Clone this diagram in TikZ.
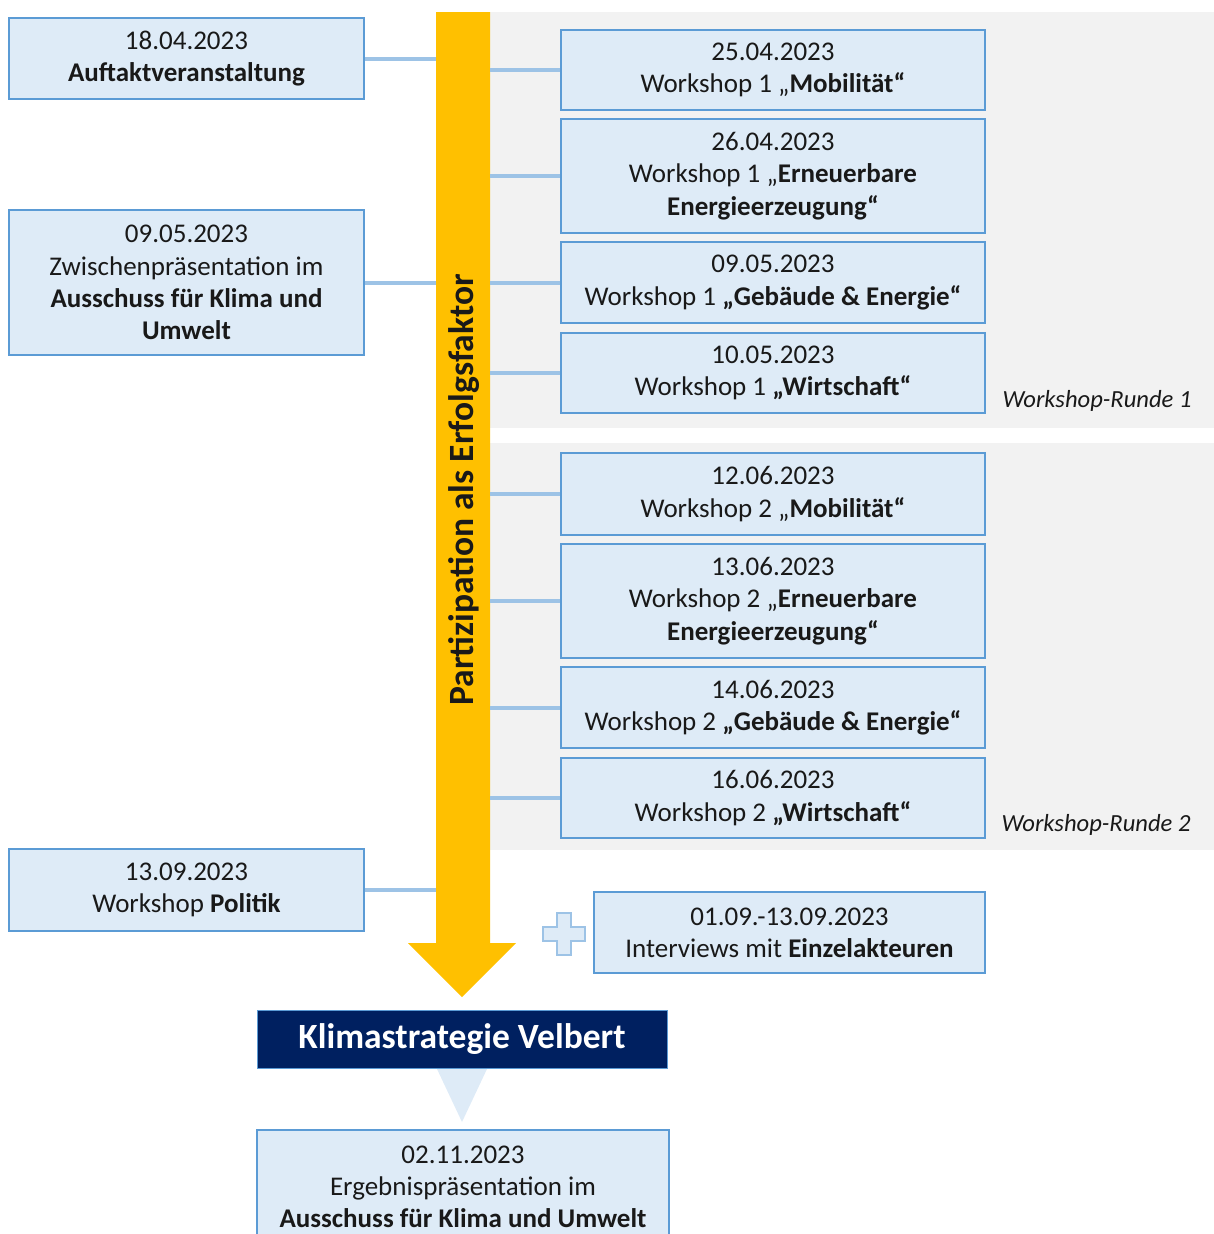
\documentclass[tikz,border=0pt]{standalone}
\usepackage{fontspec}
\setmainfont{Carlito}
\definecolor{boxfill}{HTML}{DEEBF7}
\definecolor{boxline}{HTML}{5B9BD5}
\definecolor{connc}{HTML}{9DC3E6}
\definecolor{panelc}{HTML}{F2F2F2}
\definecolor{yell}{HTML}{FFC000}
\definecolor{navy}{HTML}{002060}
\begin{document}
\begin{tikzpicture}[x=1pt,y=-1pt,
  box/.style={draw=boxline, fill=boxfill, line width=1.6pt, align=center, inner sep=0pt,
    font=\fontsize{27}{32.3}\selectfont, text=black!90},
  lbox/.style={box, minimum width=355pt},
  rbox/.style={box, minimum width=424pt},
  conn/.style={draw=connc, line width=4pt},
  runde/.style={font=\fontsize{24.6}{28}\selectfont\itshape, text=black!90}]
\useasboundingbox (0,0) rectangle (1214,1234);
% panels
\fill[panelc] (490,12) rectangle (1214,428);
\fill[panelc] (490,443) rectangle (1214,850);
% yellow arrow
\fill[yell] (436,12) -- (490,12) -- (490,943) -- (516,943) -- (462,997) -- (408,943) -- (436,943) -- cycle;
\node[minimum width=54pt, minimum height=931pt, inner sep=0pt] (shaft) at (463,477.5) {};
\node[rotate=90, font=\fontsize{35.5}{38}\selectfont\bfseries, text=black!90] (ptext) at (464,490) {Partizipation als Erfolgsfaktor};
% left boxes
\node[lbox, minimum height=81pt] (L1) at (186.5,58.5) {18.04.2023\\\textbf{Auftaktveranstaltung}};
\node[lbox, minimum height=145pt] (L2) at (186.5,282.5) {09.05.2023\\Zwischenpräsentation im\\\textbf{Ausschuss für Klima und}\\\textbf{Umwelt}};
\node[lbox, minimum height=82pt] (L3) at (186.5,890) {13.09.2023\\Workshop \textbf{Politik}};
% right boxes
\node[rbox, minimum height=80pt] (R1) at (773,70) {25.04.2023\\Workshop 1 „\textbf{Mobilität“}};
\node[rbox, minimum height=114pt] (R2) at (773,176) {26.04.2023\\Workshop 1 „\textbf{Erneuerbare}\\\textbf{Energieerzeugung“}};
\node[rbox, minimum height=81pt] (R3) at (773,282.5) {09.05.2023\\Workshop 1 \textbf{„Gebäude \& Energie“}};
\node[rbox, minimum height=80pt] (R4) at (773,373) {10.05.2023\\Workshop 1 \textbf{„Wirtschaft“}};
\node[rbox, minimum height=82pt] (R5) at (773,494) {12.06.2023\\Workshop 2 „\textbf{Mobilität“}};
\node[rbox, minimum height=114pt] (R6) at (773,601) {13.06.2023\\Workshop 2 „\textbf{Erneuerbare}\\\textbf{Energieerzeugung“}};
\node[rbox, minimum height=81pt] (R7) at (773,707.5) {14.06.2023\\Workshop 2 \textbf{„Gebäude \& Energie“}};
\node[rbox, minimum height=80pt] (R8) at (773,798) {16.06.2023\\Workshop 2 \textbf{„Wirtschaft“}};
\node[runde] (W1) at (1097,401) {Workshop-Runde 1};
\node[runde] (W2) at (1096,825) {Workshop-Runde 2};
% interviews
\node[box, minimum width=391pt, minimum height=81pt] (IV) at (789.5,932.5) {01.09.-13.09.2023\\Interviews mit \textbf{Einzelakteuren}};
\fill[boxfill, draw=connc, line width=1.5pt]
  (557,913) -- (571,913) -- (571,927) -- (585,927) -- (585,941) -- (571,941) -- (571,955)
  -- (557,955) -- (557,941) -- (543,941) -- (543,927) -- (557,927) -- cycle;
% connectors
\draw[conn] (L1.east) -- (L1.east -| shaft.west);
\draw[conn] (L2.east) -- (L2.east -| shaft.west);
\draw[conn] (L3.east) -- (L3.east -| shaft.west);
\foreach \r in {R1,R2,R3,R4,R5,R6,R7,R8}
  \draw[conn] (\r.west -| shaft.east) -- (\r.west);
% result
\node[fill=navy, draw=boxline, line width=0.8pt, minimum width=410pt, minimum height=58pt, inner sep=0pt,
  font=\fontsize{35.5}{38}\selectfont\bfseries, text=white] (KS) at (462,1039) {Klimastrategie Velbert};
\node[box, minimum width=412pt, minimum height=114pt] (EP) at (463,1187) {02.11.2023\\Ergebnispräsentation im\\\textbf{Ausschuss für Klima und Umwelt}};
\fill[boxfill] (437,1069) -- (487,1069) -- (462,1122) -- cycle;
\end{tikzpicture}
\end{document}
